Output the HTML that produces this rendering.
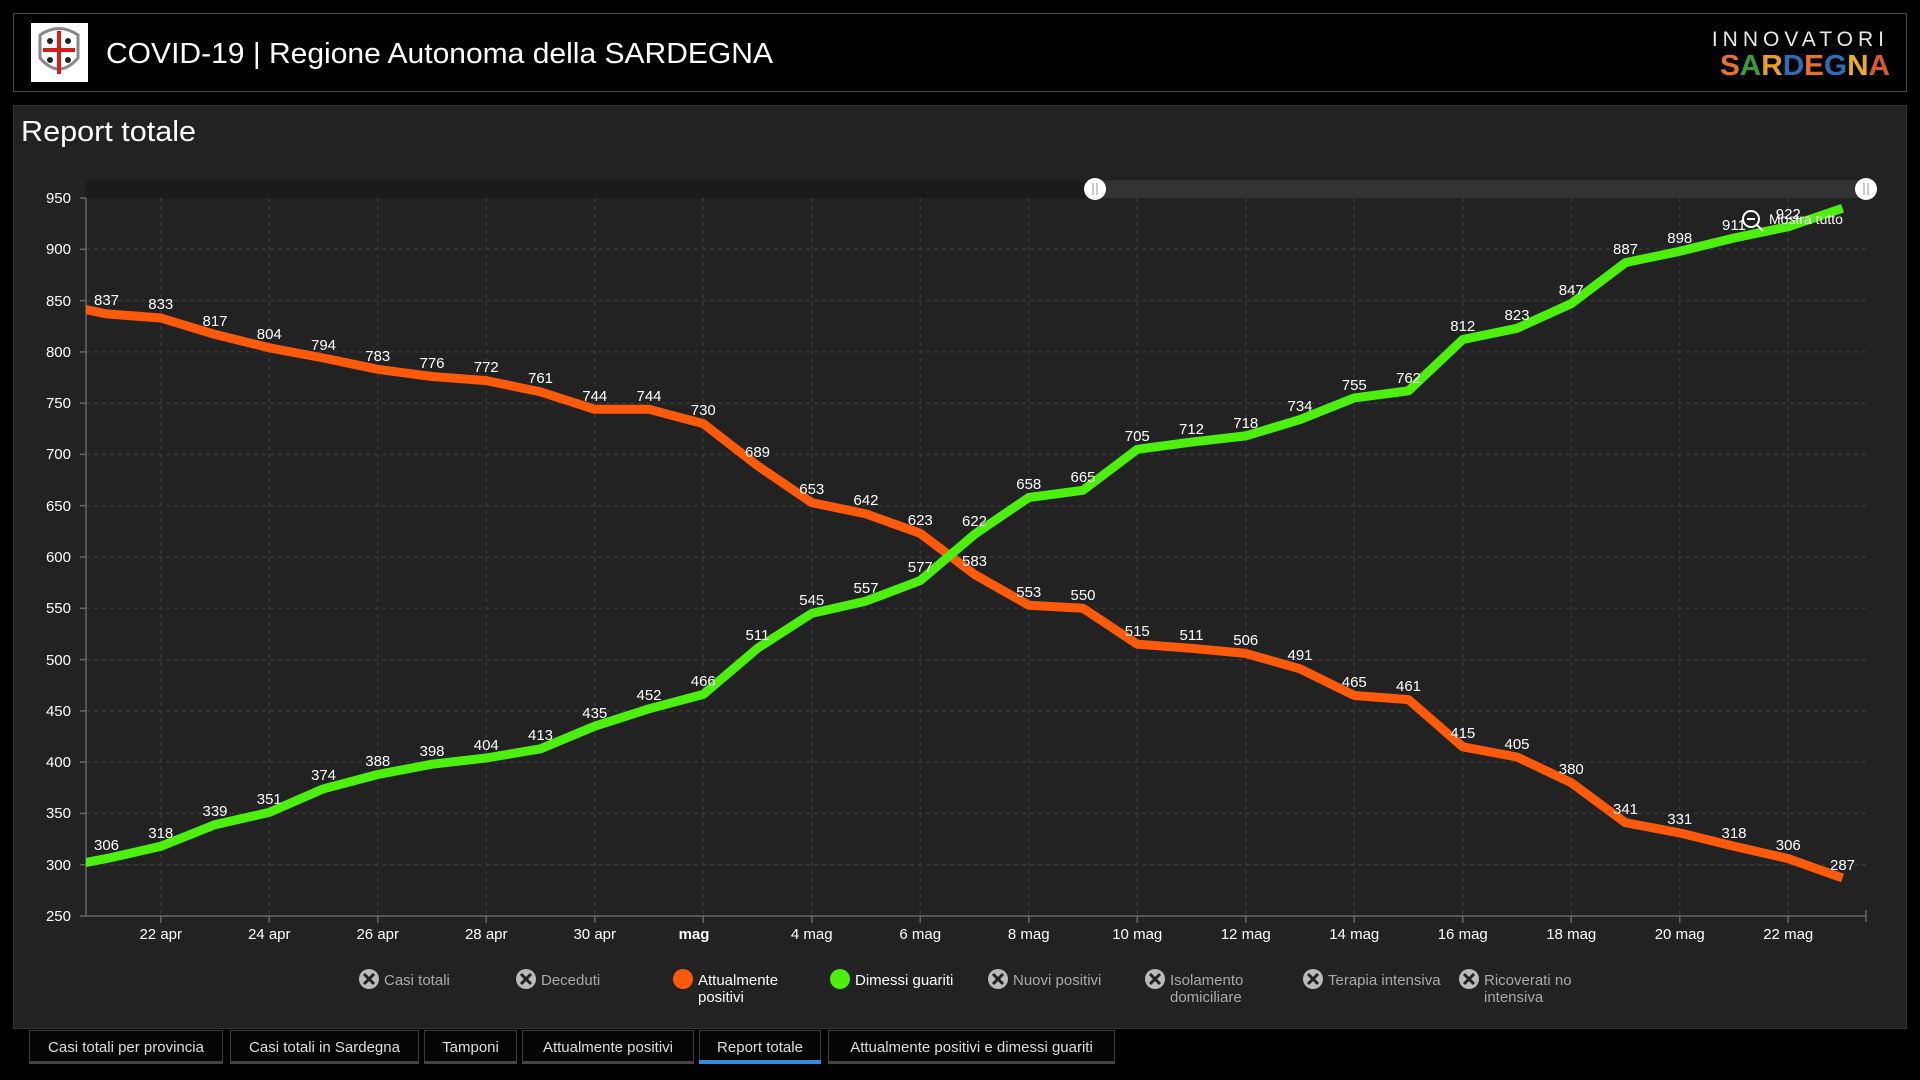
<!DOCTYPE html>
<html><head><meta charset="utf-8"><style>
html,body{margin:0;padding:0;background:#000;width:1920px;height:1080px;overflow:hidden}
svg{display:block}
text{font-family:"Liberation Sans",sans-serif}
</style></head><body>
<svg width="1920" height="1080" viewBox="0 0 1920 1080" xmlns="http://www.w3.org/2000/svg">
<rect x="0" y="0" width="1920" height="1080" fill="#000"/>
<!-- header -->
<rect x="13.5" y="13.5" width="1893" height="78" fill="#000" stroke="#4a4a4a"/>
<rect x="31" y="23" width="57" height="59" fill="#fff"/>
<path d="M40 35 Q59 22 78 35 L78 58 Q59 80 40 58 Z" fill="none" stroke="#888" stroke-width="3"/>
<rect x="57" y="31" width="4" height="43" fill="#d41c1c"/>
<rect x="43" y="48" width="32" height="4" fill="#d41c1c"/>
<circle cx="50" cy="41" r="3" fill="#222"/><circle cx="68" cy="41" r="3" fill="#222"/>
<circle cx="50" cy="60" r="3" fill="#222"/><circle cx="68" cy="60" r="3" fill="#222"/>
<text x="106" y="63" font-size="29" fill="#fff" textLength="667" lengthAdjust="spacingAndGlyphs">COVID-19 | Regione Autonoma della SARDEGNA</text>
<text x="1889" y="46" font-size="21" fill="#e8e8e8" text-anchor="end" letter-spacing="5">INNOVATORI</text>
<text x="1720" y="75" font-size="29" font-weight="bold" textLength="170" lengthAdjust="spacingAndGlyphs"><tspan fill="#e8712b">S</tspan><tspan fill="#3c9a3c">A</tspan><tspan fill="#e8a020">R</tspan><tspan fill="#2a6fb8">D</tspan><tspan fill="#e8712b">E</tspan><tspan fill="#2a6fb8">G</tspan><tspan fill="#e8b020">N</tspan><tspan fill="#d85a28">A</tspan></text>
<!-- panel -->
<rect x="13.5" y="105.5" width="1893" height="923" fill="#222" stroke="#333"/>
<text x="21" y="141" font-size="29" fill="#fff" textLength="175" lengthAdjust="spacingAndGlyphs">Report totale</text>
<!-- slider -->
<rect x="86" y="180" width="1780" height="18" fill="#1b1b1b"/>
<rect x="1095" y="180" width="771" height="18" fill="#333"/>
<circle cx="1095" cy="189" r="11" fill="#fff"/>
<line x1="1093" y1="183" x2="1093" y2="195" stroke="#aaa" stroke-width="1.2"/><line x1="1097" y1="183" x2="1097" y2="195" stroke="#aaa" stroke-width="1.2"/>
<circle cx="1866" cy="189" r="11" fill="#fff"/>
<line x1="1864" y1="183" x2="1864" y2="195" stroke="#aaa" stroke-width="1.2"/><line x1="1868" y1="183" x2="1868" y2="195" stroke="#aaa" stroke-width="1.2"/>
<!-- grid -->
<g stroke="#363636" stroke-width="1.5" stroke-dasharray="4 4">
<line x1="86" x2="1866" y1="249.3" y2="249.3"/><line x1="86" x2="1866" y1="300.6" y2="300.6"/>
<line x1="86" x2="1866" y1="351.9" y2="351.9"/><line x1="86" x2="1866" y1="403.2" y2="403.2"/>
<line x1="86" x2="1866" y1="454.4" y2="454.4"/><line x1="86" x2="1866" y1="505.7" y2="505.7"/>
<line x1="86" x2="1866" y1="557" y2="557"/><line x1="86" x2="1866" y1="608.3" y2="608.3"/>
<line x1="86" x2="1866" y1="659.6" y2="659.6"/><line x1="86" x2="1866" y1="710.9" y2="710.9"/>
<line x1="86" x2="1866" y1="762.1" y2="762.1"/><line x1="86" x2="1866" y1="813.4" y2="813.4"/>
<line x1="86" x2="1866" y1="864.7" y2="864.7"/>
<line y1="198" y2="916" x1="160.75" x2="160.75"/><line y1="198" y2="916" x1="269.25" x2="269.25"/>
<line y1="198" y2="916" x1="377.75" x2="377.75"/><line y1="198" y2="916" x1="486.25" x2="486.25"/>
<line y1="198" y2="916" x1="594.75" x2="594.75"/><line y1="198" y2="916" x1="703.25" x2="703.25"/>
<line y1="198" y2="916" x1="811.75" x2="811.75"/><line y1="198" y2="916" x1="920.25" x2="920.25"/>
<line y1="198" y2="916" x1="1028.75" x2="1028.75"/><line y1="198" y2="916" x1="1137.25" x2="1137.25"/>
<line y1="198" y2="916" x1="1245.75" x2="1245.75"/><line y1="198" y2="916" x1="1354.25" x2="1354.25"/>
<line y1="198" y2="916" x1="1462.75" x2="1462.75"/><line y1="198" y2="916" x1="1571.25" x2="1571.25"/>
<line y1="198" y2="916" x1="1679.75" x2="1679.75"/><line y1="198" y2="916" x1="1788.25" x2="1788.25"/>
</g>
<!-- axes -->
<g stroke="#666" stroke-width="1.5">
<line x1="86" y1="198" x2="86" y2="916"/>
<line x1="86" y1="916" x2="1866" y2="916"/>
<line x1="1866" y1="910" x2="1866" y2="922"/>
</g>
<g stroke="#666" stroke-width="1.5">
<line x1="80" x2="86" y1="198" y2="198"/><line x1="80" x2="86" y1="249.3" y2="249.3"/><line x1="80" x2="86" y1="300.6" y2="300.6"/><line x1="80" x2="86" y1="351.9" y2="351.9"/><line x1="80" x2="86" y1="403.2" y2="403.2"/><line x1="80" x2="86" y1="454.4" y2="454.4"/><line x1="80" x2="86" y1="505.7" y2="505.7"/><line x1="80" x2="86" y1="557" y2="557"/><line x1="80" x2="86" y1="608.3" y2="608.3"/><line x1="80" x2="86" y1="659.6" y2="659.6"/><line x1="80" x2="86" y1="710.9" y2="710.9"/><line x1="80" x2="86" y1="762.1" y2="762.1"/><line x1="80" x2="86" y1="813.4" y2="813.4"/><line x1="80" x2="86" y1="864.7" y2="864.7"/><line x1="80" x2="86" y1="916" y2="916"/>
<line y1="916" y2="923" x1="160.75" x2="160.75"/><line y1="916" y2="923" x1="269.25" x2="269.25"/><line y1="916" y2="923" x1="377.75" x2="377.75"/><line y1="916" y2="923" x1="486.25" x2="486.25"/><line y1="916" y2="923" x1="594.75" x2="594.75"/><line y1="916" y2="923" x1="703.25" x2="703.25"/><line y1="916" y2="923" x1="811.75" x2="811.75"/><line y1="916" y2="923" x1="920.25" x2="920.25"/><line y1="916" y2="923" x1="1028.75" x2="1028.75"/><line y1="916" y2="923" x1="1137.25" x2="1137.25"/><line y1="916" y2="923" x1="1245.75" x2="1245.75"/><line y1="916" y2="923" x1="1354.25" x2="1354.25"/><line y1="916" y2="923" x1="1462.75" x2="1462.75"/><line y1="916" y2="923" x1="1571.25" x2="1571.25"/><line y1="916" y2="923" x1="1679.75" x2="1679.75"/><line y1="916" y2="923" x1="1788.25" x2="1788.25"/>
</g>
<g font-size="15" fill="#fff" text-anchor="end">
<text x="71" y="203">950</text><text x="71" y="254">900</text><text x="71" y="306">850</text><text x="71" y="357">800</text><text x="71" y="408">750</text><text x="71" y="459">700</text><text x="71" y="511">650</text><text x="71" y="562">600</text><text x="71" y="613">550</text><text x="71" y="665">500</text><text x="71" y="716">450</text><text x="71" y="767">400</text><text x="71" y="818">350</text><text x="71" y="870">300</text><text x="71" y="921">250</text>
</g>
<g font-size="15" fill="#fff" text-anchor="middle">
<text x="160.75" y="939">22 apr</text><text x="269.25" y="939">24 apr</text><text x="377.75" y="939">26 apr</text><text x="486.25" y="939">28 apr</text><text x="594.75" y="939">30 apr</text><text x="694" y="939" font-weight="bold">mag</text><text x="811.75" y="939">4 mag</text><text x="920.25" y="939">6 mag</text><text x="1028.75" y="939">8 mag</text><text x="1137.25" y="939">10 mag</text><text x="1245.75" y="939">12 mag</text><text x="1354.25" y="939">14 mag</text><text x="1462.75" y="939">16 mag</text><text x="1571.25" y="939">18 mag</text><text x="1679.75" y="939">20 mag</text><text x="1788.25" y="939">22 mag</text>
</g>
<!-- series -->
<defs><clipPath id="pc"><rect x="86" y="150" width="1790" height="780"/></clipPath></defs>
<g clip-path="url(#pc)" fill="none" stroke-width="9" stroke-linejoin="round">
<polyline stroke="#ff5a0a" points="52.25,302.6 106.5,313.9 160.75,318 215,334.4 269.25,347.8 323.5,358 377.75,369.3 432,376.5 486.25,380.6 540.5,391.9 594.75,409.3 649,409.3 703.25,423.6 757.5,465.7 811.75,502.6 866,513.9 920.25,533.4 974.5,574.4 1028.75,605.2 1083,608.3 1137.25,644.2 1191.5,648.3 1245.75,653.4 1300,668.8 1354.25,695.5 1408.5,699.6 1462.75,746.8 1517,757 1571.25,782.7 1625.5,822.7 1679.75,832.9 1734,846.3 1788.25,858.6 1842.5,878"/>
<polyline stroke="#4cf00c" points="52.25,868.8 106.5,858.6 160.75,846.3 215,824.7 269.25,812.4 323.5,788.8 377.75,774.5 432,764.2 486.25,758 540.5,748.8 594.75,726.2 649,708.8 703.25,694.4 757.5,648.3 811.75,613.4 866,601.1 920.25,580.6 974.5,534.4 1028.75,497.5 1083,490.3 1137.25,449.3 1191.5,442.1 1245.75,435.9 1300,419.6 1354.25,397.9 1408.5,390.8 1462.75,339.5 1517,328.3 1571.25,303.6 1625.5,262.6 1679.75,251.3 1734,238 1788.25,226.7 1842.5,208.3"/>
</g>
<g font-size="15" fill="#fff" text-anchor="middle">
<text x="106.5" y="305">837</text><text x="160.75" y="309">833</text><text x="215" y="326">817</text><text x="269.25" y="339">804</text><text x="323.5" y="350">794</text><text x="377.75" y="361">783</text><text x="432" y="368">776</text><text x="486.25" y="372">772</text><text x="540.5" y="383">761</text><text x="594.75" y="401">744</text><text x="649" y="401">744</text><text x="703.25" y="415">730</text><text x="757.5" y="457">689</text><text x="811.75" y="494">653</text><text x="866" y="505">642</text><text x="920.25" y="525">623</text><text x="974.5" y="566">583</text><text x="1028.75" y="597">553</text><text x="1083" y="600">550</text><text x="1137.25" y="636">515</text><text x="1191.5" y="640">511</text><text x="1245.75" y="645">506</text><text x="1300" y="660">491</text><text x="1354.25" y="687">465</text><text x="1408.5" y="691">461</text><text x="1462.75" y="738">415</text><text x="1517" y="749">405</text><text x="1571.25" y="774">380</text><text x="1625.5" y="814">341</text><text x="1679.75" y="824">331</text><text x="1734" y="838">318</text><text x="1788.25" y="850">306</text><text x="1842.5" y="870">287</text>
<text x="106.5" y="850">306</text><text x="160.75" y="838">318</text><text x="215" y="816">339</text><text x="269.25" y="804">351</text><text x="323.5" y="780">374</text><text x="377.75" y="766">388</text><text x="432" y="756">398</text><text x="486.25" y="750">404</text><text x="540.5" y="740">413</text><text x="594.75" y="718">435</text><text x="649" y="700">452</text><text x="703.25" y="686">466</text><text x="757.5" y="640">511</text><text x="811.75" y="605">545</text><text x="866" y="593">557</text><text x="920.25" y="572">577</text><text x="974.5" y="526">622</text><text x="1028.75" y="489">658</text><text x="1083" y="482">665</text><text x="1137.25" y="441">705</text><text x="1191.5" y="434">712</text><text x="1245.75" y="428">718</text><text x="1300" y="411">734</text><text x="1354.25" y="390">755</text><text x="1408.5" y="383">762</text><text x="1462.75" y="331">812</text><text x="1517" y="320">823</text><text x="1571.25" y="295">847</text><text x="1625.5" y="254">887</text><text x="1679.75" y="243">898</text><text x="1734" y="230">911</text><text x="1788.25" y="219">922</text>
</g>
<!-- Mostra tutto -->
<circle cx="1751" cy="219" r="8" fill="none" stroke="#fff" stroke-width="2"/>
<line x1="1747" y1="219" x2="1755" y2="219" stroke="#fff" stroke-width="2"/>
<line x1="1757" y1="225" x2="1763" y2="231" stroke="#fff" stroke-width="2"/>
<text x="1769" y="224" font-size="14" fill="#fff">Mostra tutto</text>
<!-- legend -->
<g font-size="15">
<g fill="#bbb"><circle cx="369" cy="979" r="10"/><circle cx="526" cy="979" r="10"/><circle cx="998" cy="979" r="10"/><circle cx="1155" cy="979" r="10"/><circle cx="1313" cy="979" r="10"/><circle cx="1469" cy="979" r="10"/></g>
<g stroke="#222" stroke-width="3"><path d="M364 974 L374 984 M374 974 L364 984"/><path d="M521 974 L531 984 M531 974 L521 984"/><path d="M993 974 L1003 984 M1003 974 L993 984"/><path d="M1150 974 L1160 984 M1160 974 L1150 984"/><path d="M1308 974 L1318 984 M1318 974 L1308 984"/><path d="M1464 974 L1474 984 M1474 974 L1464 984"/></g>
<circle cx="683" cy="979" r="10" fill="#ff5a0a"/><circle cx="840" cy="979" r="10" fill="#4cf00c"/>
<g fill="#aaa"><text x="384" y="985">Casi totali</text><text x="541" y="985">Deceduti</text><text x="1013" y="985">Nuovi positivi</text><text x="1170" y="985">Isolamento</text><text x="1170" y="1002">domiciliare</text><text x="1328" y="985">Terapia intensiva</text><text x="1484" y="985">Ricoverati no</text><text x="1484" y="1002">intensiva</text></g>
<g fill="#fff"><text x="698" y="985">Attualmente</text><text x="698" y="1002">positivi</text><text x="855" y="985">Dimessi guariti</text></g>
</g>
<!-- tabs -->
<g stroke="#3a3a3a" fill="#050505">
<rect x="29.5" y="1030.5" width="193" height="33"/><rect x="230.5" y="1030.5" width="188" height="33"/><rect x="424.5" y="1030.5" width="92" height="33"/><rect x="522.5" y="1030.5" width="171" height="33"/><rect x="699.5" y="1030.5" width="121" height="33"/><rect x="828.5" y="1030.5" width="286" height="33"/>
</g>
<g fill="#444"><rect x="29" y="1061" width="194" height="3"/><rect x="230" y="1061" width="189" height="3"/><rect x="424" y="1061" width="93" height="3"/><rect x="522" y="1061" width="172" height="3"/><rect x="828" y="1061" width="287" height="3"/></g>
<rect x="699" y="1060" width="122" height="4" fill="#2e8ae6"/>
<g font-size="15" fill="#ddd" text-anchor="middle">
<text x="126" y="1052">Casi totali per provincia</text><text x="324.5" y="1052">Casi totali in Sardegna</text><text x="470.5" y="1052">Tamponi</text><text x="608" y="1052">Attualmente positivi</text><text x="760" y="1052">Report totale</text><text x="971.5" y="1052">Attualmente positivi e dimessi guariti</text>
</g>
</svg>
</body></html>
